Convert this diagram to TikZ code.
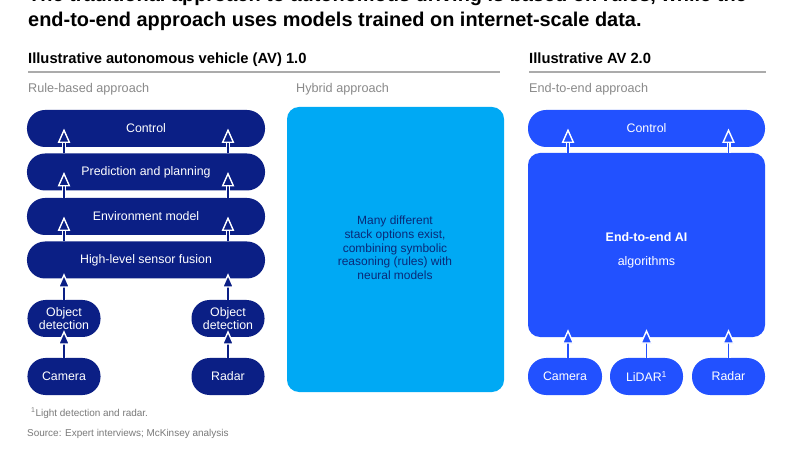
\documentclass[tikz,border=0pt]{standalone}
\usepackage{fontspec}
\setmainfont{Liberation Sans}
\usetikzlibrary{arrows.meta,calc}
\definecolor{navy}{HTML}{0B1F85}
\definecolor{eblue}{HTML}{2251FF}
\definecolor{cyanb}{HTML}{00A9F4}
\definecolor{hybtext}{HTML}{0A2A78}
\definecolor{rulegray}{HTML}{ABABAB}
\definecolor{subgray}{HTML}{8A8A8A}
\definecolor{footgray}{HTML}{7A7A7A}
\newcommand\haloarrow[3]{\draw[halo] #2 -- #3; \draw[arr=#1] #2 -- #3;}
\begin{document}
\begin{tikzpicture}[x=1bp,y=-1bp,
  bar/.style={rounded corners=18bp, minimum height=37bp, inner sep=0pt, text=white,
    font=\fontsize{12.4}{13}\selectfont, align=center},
  panel/.style={rounded corners=12bp, inner sep=0pt},
  halo/.style={white, line width=4bp, shorten >=8bp},
  arr/.style={#1, line width=1.4bp,
    -{Triangle[width=12.5bp, length=14.5bp, color=white, fill=#1, line width=1.4bp]}},
  title/.style={anchor=base west, font=\bfseries\fontsize{20}{24}\selectfont, text=black, inner sep=0pt},
  head/.style={anchor=base west, font=\bfseries\fontsize{14.8}{16}\selectfont, text=black, inner sep=0pt},
  sub/.style={anchor=base west, font=\fontsize{12.7}{14}\selectfont, text=subgray, inner sep=0pt},
  foot/.style={anchor=base west, font=\fontsize{10}{12}\selectfont, text=footgray, inner sep=0pt},
  hrule/.style={rulegray, line width=1.4bp}
]
\useasboundingbox (0,0) rectangle (800,450);
\fill[white] (0,0) rectangle (800,450);

% titles
\node[title] (t1) at (28,2) {The traditional approach to autonomous driving is based on rules, while the};
\node[title] (t2) at (28,27) {end-to-end approach uses models trained on internet-scale data.};

\node[head] (h1) at (28,64) {Illustrative autonomous vehicle (AV) 1.0};
\node[head] (h2) at (529,64) {Illustrative AV 2.0};
\coordinate (l1a) at (28,72); \coordinate (l1b) at (500,72);
\coordinate (l2a) at (529,72); \coordinate (l2b) at (766,72);
\draw[hrule] (l1a) -- (l1b);
\draw[hrule] (l2a) -- (l2b);

\node[sub] (s1) at (28,93) {Rule-based approach};
\node[sub] (s2) at (296,93) {Hybrid approach};
\node[sub] (s3) at (529,93) {End-to-end approach};

% left stack
\node[bar, fill=navy, minimum width=238bp] (control) at (146,128.5) {Control};
\node[bar, fill=navy, minimum width=238bp] (pred) at (146,172) {Prediction and planning};
\node[bar, fill=navy, minimum width=238bp] (env) at (146,216.5) {Environment model};
\node[bar, fill=navy, minimum width=238bp] (fusion) at (146,260) {High-level sensor fusion};
\node[bar, fill=navy, minimum width=73bp] (od1) at (64,318.5) {Object\\detection};
\node[bar, fill=navy, minimum width=73bp] (od2) at (228,318.5) {Object\\detection};
\node[bar, fill=navy, minimum width=73bp] (cam1) at (64,376.5) {Camera};
\node[bar, fill=navy, minimum width=73bp] (radar1) at (228,376.5) {Radar};

\haloarrow{navy}{([xshift=-82bp]pred.north)}{([xshift=-82bp]control.center)}
\haloarrow{navy}{([xshift=82bp]pred.north)}{([xshift=82bp]control.center)}
\haloarrow{navy}{([xshift=-82bp]env.north)}{([xshift=-82bp]pred.center)}
\haloarrow{navy}{([xshift=82bp]env.north)}{([xshift=82bp]pred.center)}
\haloarrow{navy}{([xshift=-82bp]fusion.north)}{([xshift=-82bp]env.center)}
\haloarrow{navy}{([xshift=82bp]fusion.north)}{([xshift=82bp]env.center)}
\haloarrow{navy}{(od1.north)}{($(fusion.south -| od1.north)+(0,-5.5)$)}
\haloarrow{navy}{(od2.north)}{($(fusion.south -| od2.north)+(0,-5.5)$)}
\haloarrow{navy}{(cam1.north)}{($(od1.south)+(0,-7)$)}
\haloarrow{navy}{(radar1.north)}{($(od2.south)+(0,-7)$)}

% hybrid
\node[panel, fill=cyanb, minimum width=217bp, minimum height=285bp] (hyb) at (395.5,249.5) {};
\node[align=center, text=hybtext, font=\fontsize{12}{13.7}\selectfont, inner sep=0pt] (hybtxt) at (395,248)
  {Many different\\stack options exist,\\combining symbolic\\reasoning (rules) with\\neural models};

% right side
\node[bar, fill=eblue, minimum width=237bp] (rctl) at (646.5,128.5) {Control};
\node[panel, fill=eblue, minimum width=237bp, minimum height=184bp] (big) at (646.5,245) {};
\node[align=center, text=white, inner sep=0pt] (aitxt) at (646.5,250)
  {\bfseries\fontsize{12.5}{14}\selectfont End-to-end AI\\[12bp]\fontsize{12.5}{14}\selectfont algorithms};
\node[bar, fill=eblue, minimum width=74bp] (rcam) at (565,376.5) {Camera};
\node[bar, fill=eblue, minimum width=73bp] (lidar) at (646.5,376.5) {LiDAR\textsuperscript{1}};
\node[bar, fill=eblue, minimum width=73bp] (rradar) at (728.5,376.5) {Radar};

\haloarrow{eblue}{($(big.north -| rcam.north)+(3,0)$)}{($(rctl.center -| rcam.north)+(3,0)$)}
\haloarrow{eblue}{(big.north -| rradar.north)}{(rctl.center -| rradar.north)}
\haloarrow{eblue}{($(rcam.north)+(3,0)$)}{($(big.south -| rcam.north)+(3,-8)$)}
\haloarrow{eblue}{(lidar.north)}{($(big.south -| lidar.north)+(0,-8)$)}
\haloarrow{eblue}{(rradar.north)}{($(big.south -| rradar.north)+(0,-8)$)}

% footnotes
\node[foot] (f1) at (31,416.5) {\textsuperscript{1}Light detection and radar.};
\node[foot] (f2) at (27,436.5) {Source: Expert interviews; McKinsey analysis};
\end{tikzpicture}
\end{document}
